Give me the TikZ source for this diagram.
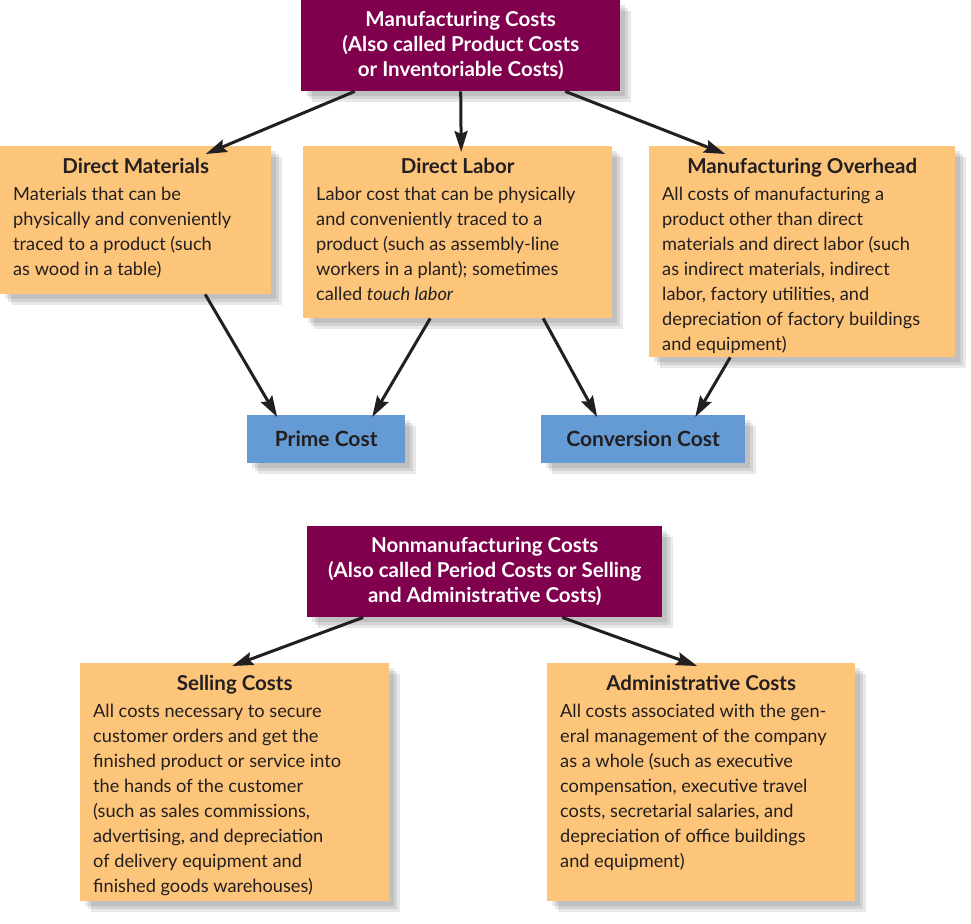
\documentclass[tikz,border=0pt]{standalone}
\usepackage{fontspec}
\setmainfont{Lato}
\usetikzlibrary{arrows.meta,shadows}

\definecolor{maroonbox}{RGB}{128,0,78}
\definecolor{costorange}{RGB}{253,197,122}
\definecolor{costblue}{RGB}{100,155,212}
\definecolor{arrowink}{RGB}{35,31,32}

\tikzset{
  boxshadow/.style={
    drop shadow={shadow xshift=5pt,shadow yshift=-5pt,fill=black,opacity=0.09},
    drop shadow={shadow xshift=8pt,shadow yshift=-8pt,fill=black,opacity=0.09},
    drop shadow={shadow xshift=11pt,shadow yshift=-11pt,fill=black,opacity=0.09}},
  headbox/.style={fill=maroonbox,text=white,boxshadow,font=\fontsize{20.5}{25}\selectfont\bfseries,align=center,anchor=north west,inner sep=0pt},
  costbox/.style={fill=costorange,text=arrowink,boxshadow,font=\fontsize{18.2}{25}\selectfont,anchor=north west,inner xsep=13pt,inner ysep=12pt},
  sumbox/.style={fill=costblue,text=arrowink,boxshadow,font=\fontsize{21}{25}\selectfont\bfseries,anchor=north west,inner sep=0pt},
  flow/.style={draw=arrowink,line width=3pt,-{Stealth[length=21pt,width=13pt,inset=3pt]}}
}
% top aligned box text: height, width, title, body
\newcommand{\boxbody}[4]{\parbox[t][#1][t]{#2}{{\centering\fontsize{20.5}{25}\selectfont\bfseries #3\par}\vspace{2pt}\raggedright #4}}

\begin{document}
\begin{tikzpicture}[x=1pt,y=1pt,yscale=-1]
    \useasboundingbox (0,0) rectangle (971,923);

    % manufacturing costs
    \node[headbox,minimum width=319pt,minimum height=91pt] (mfg) at (301,0) {Manufacturing Costs\\(Also called Product Costs\\or Inventoriable Costs)};

    \node[costbox] (dm) at (0,146)
      {\boxbody{124pt}{245pt}{Direct Materials}{Materials that can be\\physically and conveniently\\traced to a product (such\\as wood in a table)}};
    \node[costbox] (dl) at (303,146)
      {\boxbody{148pt}{283pt}{Direct Labor}{Labor cost that can be physically\\and conveniently traced to a\\product (such as assembly-line\\workers in a plant); sometimes\\called \textit{touch labor}}};
    \node[costbox] (mo) at (649,146)
      {\boxbody{187pt}{280pt}{Manufacturing Overhead}{All costs of manufacturing a\\product other than direct\\materials and direct labor (such\\as indirect materials, indirect\\labor, factory utilities, and\\depreciation of factory buildings\\and equipment)}};

    \node[sumbox,minimum width=158pt,minimum height=48pt] (prime) at (247,415) {Prime Cost};
    \node[sumbox,minimum width=204pt,minimum height=48pt] (conv) at (541,415) {Conversion Cost};

    \draw[flow] ([xshift=-106pt]mfg.south) -- ([xshift=70pt,yshift=8pt]dm.north);
    \draw[flow] (mfg.south) -- ([xshift=3.5pt,yshift=6pt]dl.north);
    \draw[flow] ([xshift=104.5pt]mfg.south) -- ([xshift=-77pt,yshift=8pt]mo.north);

    \draw[flow] ([xshift=69.5pt]dm.south) -- ([xshift=-49pt,yshift=2pt]prime.north);
    \draw[flow] ([xshift=-27.5pt]dl.south) -- ([xshift=46pt,yshift=2pt]prime.north);
    \draw[flow] ([xshift=85.5pt]dl.south) -- ([xshift=-46pt,yshift=2pt]conv.north);
    \draw[flow] ([xshift=-72pt]mo.south) -- ([xshift=52pt,yshift=2pt]conv.north);

    % nonmanufacturing costs
    \node[headbox,minimum width=355pt,minimum height=91pt] (nonmfg) at (307,526) {Nonmanufacturing Costs\\(Also called Period Costs or Selling\\and Administrative Costs)};

    \node[costbox] (sell) at (80,663)
      {\boxbody{214pt}{283pt}{Selling Costs}{All costs necessary to secure\\customer orders and get the\\finished product or service into\\the hands of the customer\\(such as sales commissions,\\advertising, and depreciation\\of delivery equipment and\\finished goods warehouses)}};
    \node[costbox] (admin) at (547,663)
      {\boxbody{214pt}{282pt}{Administrative Costs}{All costs associated with the gen-\\eral management of the company\\as a whole (such as executive\\compensation, executive travel\\costs, secretarial salaries, and\\depreciation of office buildings\\and equipment)}};

    \draw[flow] ([xshift=-121.5pt]nonmfg.south) -- ([xshift=-2.5pt,yshift=3pt]sell.north);
    \draw[flow] ([xshift=77.5pt]nonmfg.south) -- ([xshift=-4pt,yshift=3pt]admin.north);
\end{tikzpicture}
\end{document}
